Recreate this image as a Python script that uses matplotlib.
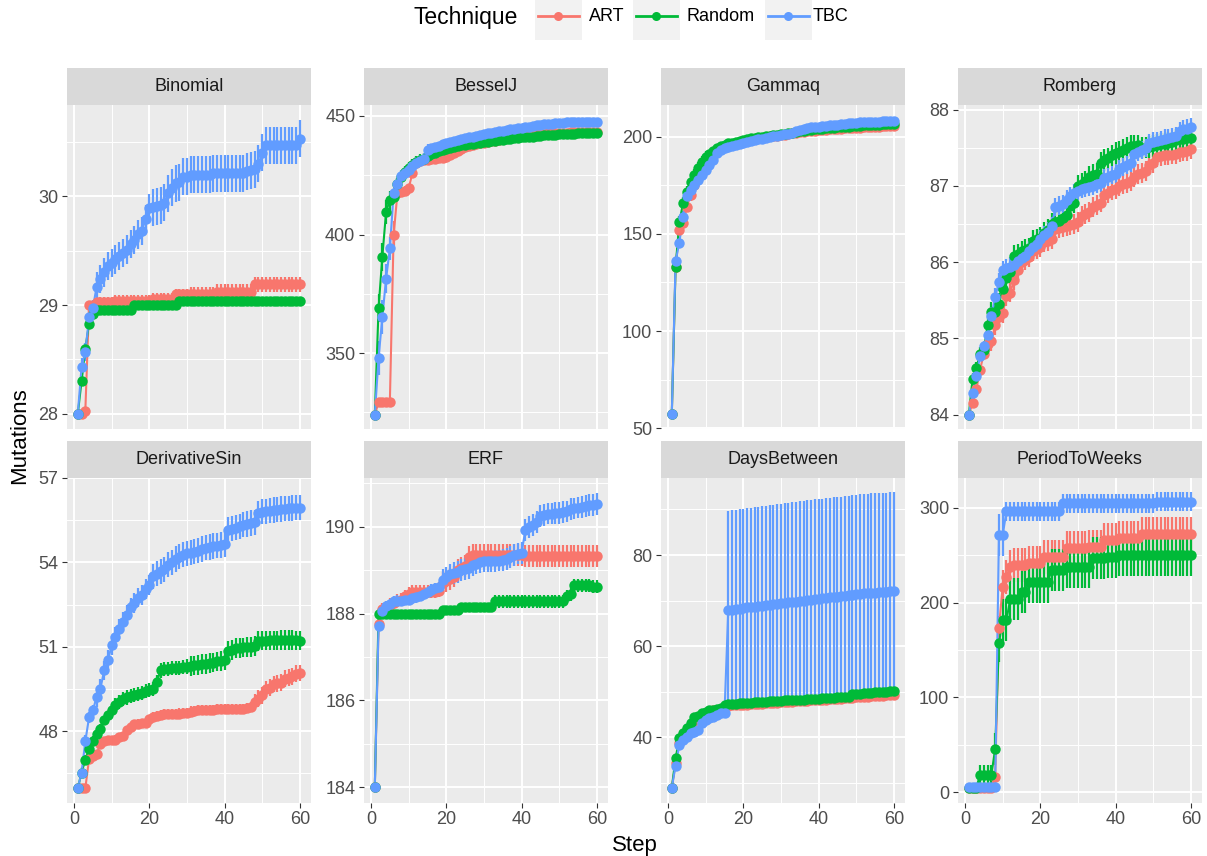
import numpy as np
import matplotlib.pyplot as plt
from matplotlib.patches import Rectangle

plt.rcParams['font.family'] = ['Liberation Sans', 'DejaVu Sans']

# ---------------- data ----------------
steps = np.arange(1, 61)
techniques = ['ART', 'Random', 'TBC']
colors = ['#F8766D', '#00BA38', '#619CFF']

# Binomial
binomial_art = [28.0, 28.0, 28.03, 29.0, 29.0] + [29.03]*5 + [29.04]*10 + [29.06]*6 + [29.1]*11 + [29.12]*10 + [29.19]*13
binomial_random = [28.0, 28.3, 28.6, 28.83, 28.92] + [28.95]*10 + [29.0]*12 + [29.04]*33
binomial_tbc = [28.0, 28.43, 28.57, 28.89, 28.97, 29.17, 29.24, 29.3, 29.36, 29.39,
                29.42, 29.45, 29.48, 29.51, 29.56, 29.6, 29.65, 29.68, 29.79, 29.89,
                29.9, 29.91, 29.92, 29.94, 30.03, 30.08, 30.12, 30.13, 30.18, 30.18] + \
               [30.2]*6 + [30.21]*9 + [30.23, 30.24, 30.25, 30.3, 30.4] + [30.47]*9 + [30.53]
binomial_art_err = [0.0, 0.0, 0.03] + [0.04]*7 + [0.05]*20 + [0.07]*30
binomial_random_err = [0.0, 0.03, 0.04] + [0.03]*57
binomial_tbc_err = [0.0] + [0.08]*4 + [0.13]*15 + [0.17]*40

# BesselJ
bessel_art = [324, 329.3, 329.3, 329.3, 329.5, 399.7, 417.3, 418, 418.5, 419.5,
              426, 430, 431, 431.3, 431.6, 431.8, 432, 432.2, 432.4, 432.8,
              433.5, 434.3, 435.2, 436, 436.8, 437.4, 437.8, 438.1, 438.4, 438.7,
              439, 439.3, 439.6, 439.9, 440.2, 440.5, 440.8, 441.0, 441.2, 441.4,
              441.6, 441.8, 442.0, 442.2, 442.4, 442.5, 442.6, 442.7, 442.8, 442.9,
              443.0, 443.0, 443.1, 443.1, 443.2, 443.2, 443.2, 443.3, 443.3, 443.3]
bessel_random = [324, 369, 390.6, 409.6, 414.5, 416, 421.5, 424.4, 426.5, 428,
                 429.5, 430.5, 431.4, 432, 433, 434, 434.5, 435, 435.5, 436,
                 436.5, 437, 437.3, 437.6, 437.9, 438.1, 438.3, 438.5, 438.7, 438.9,
                 439.1, 439.3, 439.5, 439.7, 439.9, 440.1, 440.3, 440.5, 440.7, 440.9,
                 441.0, 441.2, 441.3, 441.5, 441.6, 441.8, 441.9, 442.0, 442.1, 442.2,
                 442.3, 442.4, 442.5, 442.5, 442.6, 442.6, 442.7, 442.7, 442.8, 442.8]
bessel_tbc = [324, 347.9, 365.2, 381.4, 394.1, 417.3, 421.3, 424.6, 426, 427,
              429, 430, 431, 432, 435.6, 436.5, 437, 437.5, 438, 438.5,
              439, 439.5, 440, 440.3, 440.6, 441, 441.3, 441.6, 442, 442.3,
              442.6, 443, 443.2, 443.5, 443.8, 444, 444.3, 444.6, 444.8, 445,
              445.3, 445.5, 445.8, 446, 446.2, 446.4, 446.6, 446.8, 447, 447.1,
              447.2, 447.3, 447.3, 447.4, 447.4, 447.4, 447.5, 447.5, 447.5, 447.5]
bessel_art_err = [0.0] + [1.5]*4 + [6.0, 3.0] + [2.0]*10 + [1.2]*43
bessel_random_err = [0.0, 6.0, 6.0, 5.0, 4.0] + [2.5]*10 + [1.2]*45
bessel_tbc_err = [0.0, 7.0, 7.0, 6.0, 5.0] + [2.5]*10 + [1.2]*45

# Gammaq
gamma_art = [57.4, 132.9, 152, 155.5, 164, 170, 175, 180, 185, 188.5,
             190.5, 192, 193.2, 194.2, 195, 195.7, 196.3, 196.8, 197.3, 197.7,
             198.1, 198.5, 198.9, 199.2, 199.5, 199.8, 200.1, 200.3, 200.6, 200.8,
             201.1, 201.4, 201.7, 202, 202.3, 202.5, 202.7, 202.9, 203.1, 203.3,
             203.5, 203.6, 203.8, 203.9, 204.1, 204.2, 204.3, 204.4, 204.5, 204.6,
             204.7, 204.8, 204.9, 205, 205.1, 205.2, 205.3, 205.4, 205.5, 205.6]
gamma_random = [57.4, 132.9, 156, 165.8, 171.5, 176.5, 180.5, 184, 187, 189.5,
                191.3, 192.8, 194, 195, 195.8, 196.5, 197, 197.5, 198, 198.4,
                198.8, 199.1, 199.4, 199.7, 200, 200.2, 200.5, 200.7, 201, 201.2,
                201.5, 201.8, 202.1, 202.4, 202.7, 203, 203.3, 203.5, 203.7, 203.9,
                204.1, 204.3, 204.5, 204.6, 204.8, 204.9, 205.1, 205.2, 205.4, 205.5,
                205.6, 205.8, 205.9, 206, 206.1, 206.2, 206.3, 206.4, 206.5, 206.6]
gamma_tbc = [57.4, 135.8, 145.5, 158.9, 169.5, 172.6, 175.2, 177.7, 180.3, 182.9,
             185.4, 188, 191.4, 193.2, 194, 194.6, 195.2, 195.7, 196.2, 196.6,
             197.1, 197.6, 198.1, 198.6, 199, 199.5, 199.9, 200.2, 200.5, 200.9,
             201.3, 201.6, 202.1, 202.8, 203.5, 204.1, 204.5, 204.8, 205, 205.2,
             205.4, 205.6, 205.8, 206, 206.2, 206.4, 206.6, 206.8, 207, 207.2,
             207.3, 207.4, 207.5, 207.6, 207.7, 207.8, 207.9, 208, 208, 208.1]
gamma_art_err = [0.0] + [3.0]*9 + [1.5]*50
gamma_random_err = [0.0] + [3.0]*9 + [1.5]*50
gamma_tbc_err = [0.0] + [3.0]*9 + [1.5]*50

# Romberg
romberg_art = [84.0, 84.15, 84.33, 84.59, 84.8, 84.93, 84.96, 85.17, 85.28, 85.33,
               85.55, 85.6, 85.76, 85.89, 86.0, 86.03, 86.06, 86.14, 86.17, 86.2,
               86.26, 86.28, 86.3, 86.44, 86.45, 86.46, 86.47, 86.49, 86.5, 86.52,
               86.6, 86.63, 86.66, 86.72, 86.75, 86.78, 86.88, 86.91, 86.94, 86.96,
               87.0, 87.02, 87.04, 87.06, 87.12, 87.15, 87.17, 87.19, 87.27, 87.3,
               87.38, 87.39, 87.4, 87.4, 87.41, 87.42, 87.44, 87.45, 87.46, 87.48]
romberg_random = [84.0, 84.47, 84.61, 84.8, 84.85, 85.17, 85.34, 85.34, 85.45, 85.65,
                  85.79, 85.87, 86.08, 86.1, 86.14, 86.16, 86.18, 86.28, 86.3, 86.32,
                  86.38, 86.42, 86.5, 86.52, 86.54, 86.58, 86.62, 86.74, 86.78, 87.0,
                  87.03, 87.06, 87.12, 87.14, 87.16, 87.3, 87.34, 87.36, 87.4, 87.43,
                  87.45, 87.47, 87.5, 87.52, 87.52, 87.53, 87.5, 87.5, 87.51, 87.52,
                  87.54, 87.55, 87.55, 87.56, 87.57, 87.6, 87.61, 87.62, 87.63, 87.63]
romberg_tbc = [84.0, 84.28, 84.51, 84.77, 84.9, 85.04, 85.29, 85.54, 85.74, 85.89,
               85.92, 85.94, 85.96, 86.02, 86.05, 86.08, 86.15, 86.2, 86.24, 86.3,
               86.35, 86.4, 86.47, 86.72, 86.74, 86.76, 86.82, 86.86, 86.9, 86.93,
               86.96, 86.97, 86.98, 87.0, 87.02, 87.04, 87.1, 87.12, 87.14, 87.16,
               87.22, 87.25, 87.27, 87.3, 87.42, 87.45, 87.47, 87.5, 87.56, 87.58,
               87.59, 87.6, 87.62, 87.63, 87.64, 87.65, 87.72, 87.74, 87.75, 87.77]
romberg_art_err = [0.0] + [0.06]*4 + [0.13]*55
romberg_random_err = [0.0] + [0.08]*4 + [0.14]*55
romberg_tbc_err = [0.0] + [0.06]*4 + [0.12]*55

# DerivativeSin
ds_art = [45.98, 45.98, 45.98, 47.02, 47.12, 47.18, 47.56, 47.65, 47.68, 47.68,
          47.7, 47.78, 47.82, 48.05, 48.15, 48.25, 48.27, 48.28, 48.3, 48.42,
          48.5, 48.55, 48.58, 48.6, 48.6, 48.61, 48.62, 48.63, 48.64, 48.65,
          48.7, 48.72, 48.74, 48.75, 48.76, 48.76, 48.77, 48.78, 48.78, 48.79,
          48.8, 48.8, 48.8, 48.8, 48.8, 48.82, 48.85, 49.04, 49.15, 49.28,
          49.5, 49.55, 49.68, 49.7, 49.72, 49.87, 49.9, 49.95, 50.05, 50.07]
ds_random = [45.98, 46.53, 46.99, 47.38, 47.67, 47.91, 48.09, 48.39, 48.56, 48.74,
             48.92, 49.04, 49.14, 49.2, 49.26, 49.3, 49.33, 49.36, 49.42, 49.46,
             49.5, 49.75, 50.16, 50.2, 50.22, 50.24, 50.25, 50.26, 50.28, 50.3,
             50.32, 50.34, 50.36, 50.38, 50.4, 50.42, 50.44, 50.48, 50.5, 50.52,
             50.85, 50.88, 50.95, 50.97, 50.98, 51.0, 51.0, 51.02, 51.2, 51.22,
             51.22, 51.23, 51.23, 51.23, 51.24, 51.24, 51.24, 51.24, 51.23, 51.22]
ds_tbc = [45.98, 46.53, 47.65, 48.5, 48.74, 49.22, 49.51, 50.16, 50.52, 51.05,
          51.35, 51.64, 51.88, 52.12, 52.4, 52.55, 52.75, 52.85, 53.05, 53.2,
          53.5, 53.6, 53.68, 53.76, 53.92, 54.0, 54.12, 54.2, 54.28, 54.32,
          54.35, 54.38, 54.42, 54.48, 54.52, 54.55, 54.58, 54.6, 54.62, 54.65,
          55.15, 55.2, 55.24, 55.28, 55.34, 55.37, 55.4, 55.42, 55.75, 55.8,
          55.82, 55.84, 55.86, 55.88, 55.9, 55.91, 55.92, 55.93, 55.94, 55.95]
ds_art_err = [0.0]*3 + [0.15]*17 + [0.18]*27 + [0.3]*13
ds_random_err = [0.0] + [0.15]*9 + [0.25]*20 + [0.35]*30
ds_tbc_err = [0.0] + [0.2]*4 + [0.35]*15 + [0.45]*40

# ERF
erf_art = [184.0, 187.75, 188.1, 188.15, 188.2, 188.25, 188.3, 188.32, 188.4, 188.45,
           188.5, 188.5, 188.5, 188.5, 188.5, 188.5, 188.5, 188.52, 188.7, 188.75,
           188.8, 188.85, 189.0, 189.05, 189.1, 189.3, 189.35] + [189.35]*13 + [189.33]*20
erf_random = [184.0] + [188.0]*17 + [188.08]*5 + [188.15]*9 + [188.28]*19 + \
             [188.4, 188.45] + [188.65]*5 + [188.62]*2
erf_tbc = [184.0, 187.72, 188.05, 188.18, 188.22, 188.28, 188.3, 188.3, 188.31, 188.32,
           188.35, 188.37, 188.4, 188.45, 188.5, 188.55, 188.58, 188.6, 188.78, 188.83,
           188.9, 188.93, 188.95, 189.0, 189.02, 189.05, 189.12, 189.15, 189.18, 189.2,
           189.2, 189.2, 189.21, 189.22, 189.23, 189.25, 189.3, 189.35, 189.38, 189.4,
           189.92, 190.0, 190.04, 190.1, 190.25, 190.27, 190.3, 190.3, 190.31, 190.32,
           190.33, 190.35, 190.4, 190.42, 190.44, 190.46, 190.48, 190.5, 190.5, 190.52]
erf_art_err = [0.0, 0.1] + [0.15]*16 + [0.25]*42
erf_random_err = [0.0] + [0.05]*17 + [0.1]*14 + [0.15]*28
erf_tbc_err = [0.0, 0.1] + [0.12]*16 + [0.25]*42

# DaysBetween
days_art = [28.96, 34.3, 38.8, 40.2, 41.5, 42.3, 43.5, 44.0, 44.8, 45.3,
            45.6, 45.9, 46.1, 46.3, 46.5, 46.8, 47.0, 47.0, 47.1, 47.1,
            47.2, 47.3, 47.3, 47.4, 47.4, 47.5, 47.5, 47.6, 47.6, 47.7,
            47.7, 47.8, 47.8, 47.9, 47.9, 48.0, 48.0, 48.1, 48.1, 48.2,
            48.3, 48.3, 48.4, 48.4, 48.5, 48.5, 48.6, 48.6, 48.7, 48.8,
            48.8, 48.9, 48.9, 49.0, 49.0, 49.1, 49.1, 49.2, 49.3, 49.4]
days_random = [28.96, 35.4, 39.8, 40.9, 42.0, 43.1, 44.5, 44.7, 45.3, 45.6,
               45.9, 46.1, 46.3, 46.5, 47.1, 47.3, 47.4, 47.4, 47.5, 47.5,
               47.6, 47.6, 47.7, 47.7, 47.8, 47.8, 47.9, 47.9, 48.0, 48.0,
               48.1, 48.1, 48.2, 48.2, 48.3, 48.3, 48.4, 48.4, 48.5, 48.5,
               48.6, 48.6, 48.7, 48.7, 48.8, 48.8, 48.9, 48.9, 49.5, 49.6,
               49.6, 49.7, 49.8, 49.8, 49.9, 49.9, 50.0, 50.0, 50.1, 50.1]
days_tbc = [28.96, 33.8, 38.3, 39.4, 40.15, 40.9, 41.2, 41.6, 43.1, 43.8,
            44.2, 44.5, 44.9, 45.3, 45.4, 67.9, 68.0, 68.1, 68.2, 68.3,
            68.5, 68.6, 68.7, 68.8, 68.9, 69.0, 69.1, 69.2, 69.3, 69.4,
            69.5, 69.6, 69.7, 69.8, 69.9, 70.0, 70.1, 70.2, 70.3, 70.4,
            70.5, 70.6, 70.7, 70.8, 70.9, 71.0, 71.1, 71.2, 71.3, 71.4,
            71.5, 71.6, 71.6, 71.7, 71.7, 71.8, 71.8, 71.9, 72.0, 72.1]
days_art_err = [0.0] + [0.8]*59
days_random_err = [0.0] + [0.8]*59
days_tbc_err = [0.0] + [0.8]*14 + [21.8]*15 + [21.9]*15 + [21.8]*15

# PeriodToWeeks
ptw_art = [5.0]*7 + [16.5, 173.6, 216.8, 227.3, 237.8] + [239.6]*4 + [241.3]*4 + \
          [247.6]*6 + [257.1]*6 + [258.9]*4 + [265.9]*4 + [267.7]*6 + [272.3]*14
ptw_random = [5.0]*3 + [18.5]*4 + [45.7, 157.0, 181.6, 181.6] + [203.4]*3 + [211.5]*2 + \
             [222.0]*6 + [234.3]*4 + [237.8]*7 + [246.6]*4 + [248.4]*3 + [250.1]*20
ptw_tbc = [5.3]*8 + [271.2, 271.2] + [296.0]*15 + [304.6]*25 + [306.3]*10
ptw_art_err = [1.0]*7 + [5.0, 12.0] + [18.0]*51
ptw_random_err = [1.0]*3 + [10.0]*4 + [17.0, 20.0] + [22.0]*51
ptw_tbc_err = [1.0]*8 + [22.0, 22.0] + [10.0]*50

panel_names = ['Binomial', 'BesselJ', 'Gammaq', 'Romberg',
               'DerivativeSin', 'ERF', 'DaysBetween', 'PeriodToWeeks']
panel_means = [
    (binomial_art, binomial_random, binomial_tbc),
    (bessel_art, bessel_random, bessel_tbc),
    (gamma_art, gamma_random, gamma_tbc),
    (romberg_art, romberg_random, romberg_tbc),
    (ds_art, ds_random, ds_tbc),
    (erf_art, erf_random, erf_tbc),
    (days_art, days_random, days_tbc),
    (ptw_art, ptw_random, ptw_tbc),
]
panel_errs = [
    (binomial_art_err, binomial_random_err, binomial_tbc_err),
    (bessel_art_err, bessel_random_err, bessel_tbc_err),
    (gamma_art_err, gamma_random_err, gamma_tbc_err),
    (romberg_art_err, romberg_random_err, romberg_tbc_err),
    (ds_art_err, ds_random_err, ds_tbc_err),
    (erf_art_err, erf_random_err, erf_tbc_err),
    (days_art_err, days_random_err, days_tbc_err),
    (ptw_art_err, ptw_random_err, ptw_tbc_err),
]
y_limits = [(27.86, 30.84), (318, 454.6), (49.6, 216.3), (83.81, 88.06),
            (45.45, 56.95), (183.64, 191.12), (25.6, 96.9), (-11.3, 331.3)]
y_major = [[28, 29, 30], [350, 400, 450], [50, 100, 150, 200], [84, 85, 86, 87, 88],
           [48, 51, 54, 57], [184, 186, 188, 190], [40, 60, 80], [0, 100, 200, 300]]
y_minor = [[28.5, 29.5, 30.5], [325, 375, 425], [75, 125, 175], [84.5, 85.5, 86.5, 87.5],
           [46.5, 49.5, 52.5, 55.5], [185, 187, 189, 191], [30, 50, 70, 90], [50, 150, 250]]
x_major = [0, 20, 40, 60]
x_minor = [10, 30, 50]

# ---------------- figure ----------------
W, H = 1207, 856
fig = plt.figure(figsize=(W / 100, H / 100), dpi=100)


def px_axes(x0, y0, w, h):
    return fig.add_axes([x0 / W, 1 - (y0 + h) / H, w / W, h / H])


col_x = [66.7, 363.7, 660.7, 957.7]
panel_w = 244.3
rows = [(68, 37, 324), (441, 37, 325)]  # strip top, strip height, plot height

for i, name in enumerate(panel_names):
    r, c = divmod(i, 4)
    strip_top, strip_h, plot_h = rows[r]
    # strip
    sax = px_axes(col_x[c], strip_top, panel_w, strip_h)
    sax.set_facecolor('#D9D9D9')
    sax.set_xticks([])
    sax.set_yticks([])
    for s in sax.spines.values():
        s.set_visible(False)
    sax.text(0.5, 0.5, name, ha='center', va='center', fontsize=13,
             color='#1A1A1A', transform=sax.transAxes)

    ax = px_axes(col_x[c], strip_top + strip_h, panel_w, plot_h)
    ax.set_facecolor('#EBEBEB')
    for s in ax.spines.values():
        s.set_visible(False)
    ax.set_xlim(-1.95, 62.95)
    ax.set_ylim(*y_limits[i])
    ax.set_xticks(x_major)
    ax.set_xticks(x_minor, minor=True)
    ax.set_yticks(y_major[i])
    ax.set_yticks(y_minor[i], minor=True)
    ax.grid(which='major', color='white', linewidth=1.4)
    ax.grid(which='minor', color='white', linewidth=0.7)
    ax.set_axisbelow(True)
    ax.tick_params(which='minor', length=0)
    ax.tick_params(which='major', length=3.5, width=0.8, color='#333333',
                   labelcolor='#4D4D4D', labelsize=13, pad=2.5)
    if r == 0:
        ax.tick_params(axis='x', which='major', length=0, labelbottom=False)
    else:
        ax.set_xticklabels([str(v) for v in x_major])

    means = panel_means[i]
    errs = panel_errs[i]
    for k in range(3):
        ax.errorbar(steps, means[k], yerr=errs[k], fmt='none', ecolor=colors[k],
                    elinewidth=1.6, capsize=0, zorder=2)
    for k in range(3):
        ax.plot(steps, means[k], color=colors[k], linewidth=1.5, zorder=3)
    for k in range(3):
        ax.plot(steps, means[k], 'o', color=colors[k], markersize=7.5,
                markeredgewidth=0, zorder=4)

# axis titles
fig.text(634.5 / W, 1 - 845 / H, 'Step', ha='center', va='center', fontsize=16)
fig.text(20 / W, 1 - 435.5 / H, 'Mutations', ha='center', va='center',
         rotation=90, fontsize=16)

# legend drawn on an overlay in pixel coordinates
lax = fig.add_axes([0, 0, 1, 1])
lax.set_xlim(0, W)
lax.set_ylim(H, 0)
lax.axis('off')
lax.patch.set_alpha(0)
lax.text(413, 17, 'Technique', ha='left', va='center', fontsize=16.5)
key_x = [535, 633, 765]
label_x = [589, 687, 813]
for k in range(3):
    lax.add_patch(Rectangle((key_x[k], 0), 46.5, 40, facecolor='#F2F2F2',
                            edgecolor='none'))
    lax.plot([key_x[k] + 3, key_x[k] + 43.5], [16, 16], color=colors[k], linewidth=2)
    lax.plot([key_x[k] + 23.25], [16], 'o', color=colors[k], markersize=6.5,
             markeredgewidth=0)
    lax.text(label_x[k], 16, techniques[k], ha='left', va='center', fontsize=13)

fig.savefig('out.png', dpi=100)
